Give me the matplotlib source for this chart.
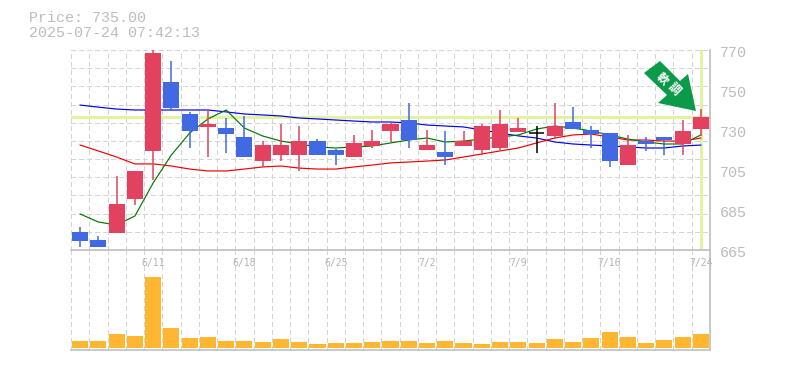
import numpy as np
import matplotlib
matplotlib.use('Agg')
import matplotlib.pyplot as plt
from matplotlib.patches import Polygon

plt.rcParams['font.family'] = ['Liberation Mono', 'DejaVu Sans']

W, H = 785, 370
GRID = '#d4d4d4'
AXIS = '#c0c0c0'
TEXTC = '#bdbdbd'
UP = '#e2425f'
DOWN = '#4169e1'
LASTC = '#e2f4a4'

# candles
body_top = [674.5, 670.25, 689, 706.5, 768.5, 753, 736.5, 731, 729, 724.5, 720, 720, 722, 722, 717.5,
            721, 722, 731, 733.25, 720, 716.5, 722, 730, 731, 729, 726.5, 730, 732, 728, 726.5,
            720, 722, 724.5, 727.5, 735]
body_bot = [669.75, 666.5, 674, 691.75, 717, 739.5, 727.5, 729.5, 726, 714, 711.75, 715, 715, 715, 715,
            714, 719.5, 727.5, 722.75, 717.5, 714, 719.5, 717.5, 718.5, 727, 726.5, 725, 728.5, 726, 711.75,
            709.5, 720.5, 722.75, 720.5, 728.5]
highs = [677, 672.5, 704, 706.5, 770, 764.25, 737.5, 738.5, 734.25, 735.35, 722, 731, 730, 723.25, 718,
         725.5, 728, 731.7, 742.2, 728, 727.5, 727.5, 731, 738.5, 734.25, 730, 742.2, 740, 730, 726.5,
         725.5, 724.5, 724.5, 733.25, 739]
lows = [666.5, 666.5, 674, 688.6, 701.75, 738, 718.5, 714, 716, 714, 708.6, 711.75, 706.5, 715, 709.6,
        714, 718.5, 721.7, 718.5, 717.5, 709.6, 719.5, 715, 717.5, 727, 716, 723.25, 728.5, 718.5, 708.6,
        709.6, 717, 715, 715, 725]
candle_type = ['d', 'd', 'u', 'u', 'u', 'd', 'd', 'u', 'd', 'd', 'u', 'u', 'u', 'd', 'd',
               'u', 'u', 'u', 'd', 'u', 'd', 'u', 'u', 'u', 'u', 'x', 'u', 'd', 'd', 'd',
               'u', 'd', 'd', 'u', 'u']

ma_blue = [741.1, 740, 739, 738.5, 738.5, 738.5, 738.5, 738.5, 737.5, 736.4, 735.9, 735.35, 734.3, 733.8, 733.25,
           732.7, 732.2, 732.2, 731.7, 730.6, 730.1, 729.6, 728, 726.4, 724.9, 723.8, 721.7, 720.65, 720.1, 719.6,
           719.1, 718.55, 718.55, 719.6, 720.1]
ma_red = [720.1, 717, 713.8, 710.2, 710.2, 709.1, 707.5, 706.5, 706.5, 707.5, 708.6, 709.1, 708, 707.5, 707.5,
          708.6, 709.6, 710.7, 711.2, 711.7, 712.25, 713.8, 715.4, 717, 718.55, 721.2, 723.8, 725.4, 725.9, 724.3,
          722.75, 722.75, 722.2, 722.2, 723.8]
ma_green = [683.9, 679.7, 678.1, 682.85, 700.2, 714.9, 726.4, 733.8, 738.5, 729, 724.85, 722.2, 720.65, 719.1, 718.55,
            719.1, 719.6, 721.2, 722.75, 723.8, 721.7, 722.2, 723.25, 724.3, 725.4, 728.5, 730.1, 729, 727.5, 725.4,
            723.25, 721.7, 720.65, 720.65, 725.4]

volumes = [7, 7, 14, 12, 71, 20, 10, 11, 7, 7, 6, 9, 6, 4, 5, 5, 6, 7, 7, 5, 7, 5, 4, 6, 6,
           5, 9, 6, 10, 16, 11, 5, 8, 11, 14]

date_idx = [4, 9, 14, 19, 24, 29, 34]
date_labels = ['6/11', '6/18', '6/25', '7/2', '7/9', '7/16', '7/24']
price_ticks = [770, 749, 728, 707, 686, 665]
price_labels = ['770', '750', '730', '705', '685', '665']
last_price = 735

fig = plt.figure(figsize=(W / 100, H / 100), dpi=100)
axv = fig.add_axes([71 / W, 1 - 350 / H, 639 / W, 100 / H])
ax = fig.add_axes([71 / W, 1 - 250 / H, 639 / W, 200 / H])
ax.patch.set_visible(False)
axv.patch.set_visible(False)
n = len(body_top)
xs = np.arange(n)

for a in (ax, axv):
    a.set_xlim(-0.5, n - 0.5)
    a.set_xticks(np.arange(n + 1) - 0.5, minor=True)
    a.grid(True, which='minor', axis='x', color=GRID, lw=0.72, ls=(0, (5, 4)))
    a.tick_params(which='both', length=0)
    a.set_axisbelow(True)
    for s in a.spines.values():
        s.set_visible(False)
    for name in ('bottom', 'right'):
        a.spines[name].set_visible(True)
        a.spines[name].set_color(AXIS)
        a.spines[name].set_linewidth(1.2)
    for t in a.xaxis.get_minor_ticks():
        t.gridline.set_clip_on(False)
        t.gridline.set_antialiased(False)

ax.set_ylim(665, 770)
ax.set_yticks(665 + np.arange(12) * 105 / 11)
ax.set_yticklabels([])
ax.grid(True, which='major', axis='y', color=GRID, lw=0.72, ls=(0, (5, 4)))
for t in ax.yaxis.get_major_ticks():
    t.gridline.set_clip_on(False)
    t.gridline.set_antialiased(False)
ax.set_xticks(date_idx)
ax.set_xticklabels(date_labels, fontsize=7, color='#b4b4b4', family='DejaVu Sans Mono')
ax.tick_params(axis='x', pad=6)

for p, lab in zip(price_ticks, price_labels):
    ax.annotate(lab, (1, p), xycoords=('axes fraction', 'data'), xytext=(10, -3),
                textcoords='offset pixels', va='center', ha='left', fontsize=10.8,
                color=TEXTC, annotation_clip=False)

# last price cross
ax.axhline(last_price, color=LASTC, lw=2.2, zorder=1.5)
ax.axvline(xs[-1], color=LASTC, lw=2.2, zorder=1.5)

# moving averages
ax.plot(xs, ma_blue, color='#0000ee', lw=0.85, zorder=4)
ax.plot(xs, ma_red, color='#ee0000', lw=0.85, zorder=4)
ax.plot(xs, ma_green, color='#007700', lw=0.85, zorder=4)

# candles
colors = {'u': UP, 'd': DOWN, 'x': '#000000'}
for i in range(n):
    c = colors[candle_type[i]]
    ax.vlines(i, lows[i], highs[i], color=c, lw=1.1, zorder=5)
    if candle_type[i] == 'x':
        ax.hlines(body_top[i], i - 0.42, i + 0.42, color=c, lw=1.1, zorder=5)
    else:
        ax.bar(i, body_top[i] - body_bot[i], bottom=body_bot[i], width=0.88, color=c, lw=0, zorder=6)

# volume
axv.set_ylim(-2, 98)
axv.set_yticks([])
axv.set_xticks([])
axv.bar(xs, volumes, width=0.88, color='#ffb732', lw=0, zorder=3)

# arrow
fx = lambda x, y: (x / W, 1 - y / H)
arrow_px = [(660, 61), (644, 73), (667, 95), (658, 103), (696, 111), (688, 74), (680, 81)]
fig.add_artist(Polygon([fx(*p) for p in arrow_px], closed=True, transform=fig.transFigure,
                       facecolor='#0a9a4a', edgecolor='none', zorder=10))
fig.text(*fx(661.5, 79), '軟', family=['Noto Sans CJK JP'], fontsize=8.5, fontweight='bold',
         color='white', rotation=-45, ha='center', va='center', zorder=11)
fig.text(*fx(674, 89), '調', family=['Noto Sans CJK JP'], fontsize=8.5, fontweight='bold',
         color='white', rotation=-45, ha='center', va='center', zorder=11)

fig.text(29 / W, 1 - 18 / H, 'Price: 735.00', fontsize=10.8, color=TEXTC, va='center', ha='left')
fig.text(29 / W, 1 - 33 / H, '2025-07-24 07:42:13', fontsize=10.8, color=TEXTC, va='center', ha='left')

fig.savefig('out.png', dpi=100)
